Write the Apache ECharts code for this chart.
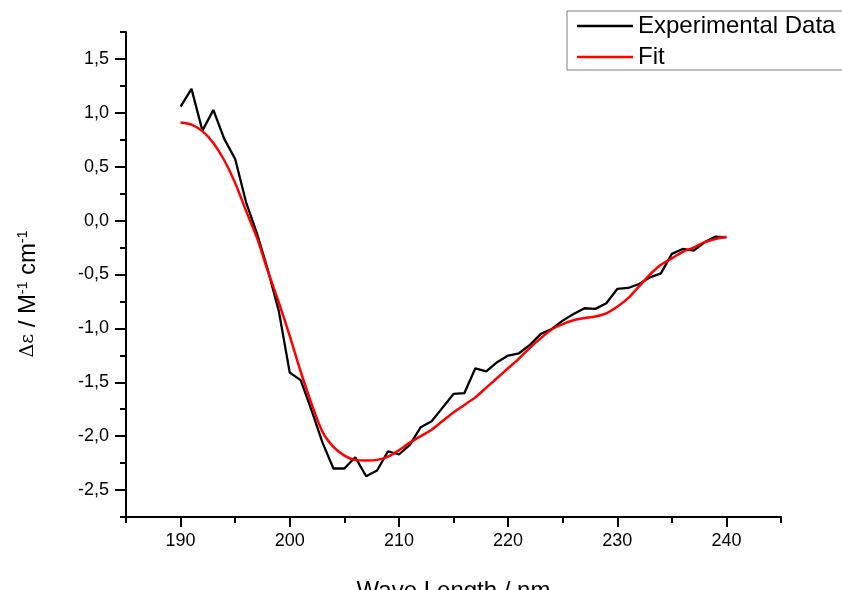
<!DOCTYPE html>
<html>
<head>
<meta charset="utf-8">
<script src="https://cdn.jsdelivr.net/npm/echarts@6/dist/echarts.min.js"></script>
<style>html,body{margin:0;padding:0;background:#fff;}#c{width:842px;height:590px;}</style>
</head>
<body>
<div id="c"></div>
<script>
// Data
const wavelength = [190,191,192,193,194,195,196,197,198,199,200,201,202,203,204,205,206,207,208,209,210,
  211,212,213,214,215,216,217,218,219,220,221,222,223,224,225,226,227,228,229,230,
  231,232,233,234,235,236,237,238,239,240];
const experimental = [1.057,1.222,0.835,1.027,0.758,0.572,0.17,-0.12,-0.46,-0.84,-1.41,-1.48,-1.76,-2.06,-2.30,-2.30,-2.196,-2.372,-2.319,-2.14,-2.17,
  -2.08,-1.917,-1.862,-1.735,-1.608,-1.60,-1.37,-1.398,-1.314,-1.252,-1.231,-1.153,-1.051,-1.005,-0.928,-0.866,-0.813,-0.819,-0.767,-0.634,
  -0.625,-0.588,-0.526,-0.489,-0.309,-0.263,-0.278,-0.201,-0.148,-0.155];
const fit = [0.91,0.89,0.83,0.72,0.56,0.35,0.09,-0.16,-0.47,-0.76,-1.07,-1.40,-1.70,-1.96,-2.10,-2.18,-2.22,-2.225,-2.22,-2.19,-2.13,
  -2.06,-2.00,-1.94,-1.86,-1.78,-1.71,-1.64,-1.55,-1.46,-1.37,-1.28,-1.18,-1.09,-1.01,-0.96,-0.925,-0.905,-0.89,-0.86,-0.80,
  -0.72,-0.61,-0.50,-0.41,-0.35,-0.29,-0.25,-0.20,-0.17,-0.15];
const xMajorTicks = [190,200,210,220,230,240];
const xMinorTicks = [185,195,205,215,225,235,245];
const yMajorTicks = [-2.5,-2.0,-1.5,-1.0,-0.5,0.0,0.5,1.0,1.5];
const yMinorTicks = [-2.75,-2.25,-1.75,-1.25,-0.75,-0.25,0.25,0.75,1.25,1.75];
const seriesNames = ['Experimental Data','Fit'];

const FONT = 'Liberation Sans, Arial, sans-serif';
const chart = echarts.init(document.getElementById('c'), null, {renderer:'canvas'});

const xBase = {type:'value', min:185, max:245, gridIndex:0, position:'bottom', splitLine:{show:false}};
const yBase = {type:'value', min:-2.75, max:1.75, gridIndex:0, position:'left', splitLine:{show:false}};

chart.setOption({
  animation:false,
  backgroundColor:'#ffffff',
  grid:{left:126, right:61, top:32, bottom:73, containLabel:false, outerBoundsMode:'none'},
  legend:{
    orient:'vertical', left:567, top:11,
    padding:[3,10,1,10], itemGap:7, itemWidth:56, itemHeight:2.5,
    borderColor:'#808080', borderWidth:1, backgroundColor:'#ffffff',
    textStyle:{fontFamily:FONT, fontSize:24, color:'#000', lineHeight:24},
    data:[{name:seriesNames[0], icon:'rect'},{name:seriesNames[1], icon:'rect'}]
  },
  xAxis:[
    Object.assign({}, xBase, {
      name:'Wave Length / nm', nameLocation:'middle', nameGap:62,
      nameTextStyle:{fontFamily:FONT, fontSize:24, color:'#000'},
      axisLine:{show:true, onZero:false, lineStyle:{color:'#000', width:2}},
      axisTick:{show:true, inside:false, length:10, customValues:xMajorTicks, lineStyle:{color:'#000', width:2}},
      axisLabel:{show:true, margin:15, customValues:xMajorTicks, fontFamily:FONT, fontSize:18, color:'#000'}
    }),
    Object.assign({}, xBase, {
      axisLine:{show:false, onZero:false},
      axisTick:{show:true, inside:false, length:6, customValues:xMinorTicks, lineStyle:{color:'#000', width:2}},
      axisLabel:{show:false}
    })
  ],
  yAxis:[
    Object.assign({}, yBase, {
      axisLine:{show:true, onZero:false, lineStyle:{color:'#000', width:2}},
      axisTick:{show:true, inside:false, length:11, customValues:yMajorTicks, lineStyle:{color:'#000', width:2}},
      axisLabel:{show:true, margin:17, customValues:yMajorTicks, fontFamily:FONT, fontSize:18, color:'#000',
        formatter:function(v){ return v.toFixed(1).replace('.', ','); }}
    }),
    Object.assign({}, yBase, {
      axisLine:{show:false, onZero:false},
      axisTick:{show:true, inside:false, length:6, customValues:yMinorTicks, lineStyle:{color:'#000', width:2}},
      axisLabel:{show:false}
    })
  ],
  graphic:[{
    type:'text', x:28, y:294, rotation:Math.PI/2,
    style:{
      text:'{g|Δε} / M{s|-1} cm{s|-1}',
      fontFamily:FONT, fontSize:24, fill:'#000', align:'center', verticalAlign:'middle',
      rich:{
        g:{fontFamily:'DejaVu Serif, serif', fontSize:19, fill:'#000'},
        s:{fontFamily:FONT, fontSize:14, fill:'#000', verticalAlign:'top'}
      }
    }
  }],
  series:[
    {name:seriesNames[0], type:'line', xAxisIndex:0, yAxisIndex:0, showSymbol:false, symbol:'none',
     data:wavelength.map((w,i)=>[w, experimental[i]]),
     lineStyle:{color:'#000000', width:2.3}, itemStyle:{color:'#000000'}, z:2},
    {name:seriesNames[1], type:'line', xAxisIndex:0, yAxisIndex:0, showSymbol:false, symbol:'none', smooth:0.3,
     data:wavelength.map((w,i)=>[w, fit[i]]),
     lineStyle:{color:'#ff0000', width:2.5}, itemStyle:{color:'#ff0000'}, z:3}
  ]
});
</script>
</body>
</html>
